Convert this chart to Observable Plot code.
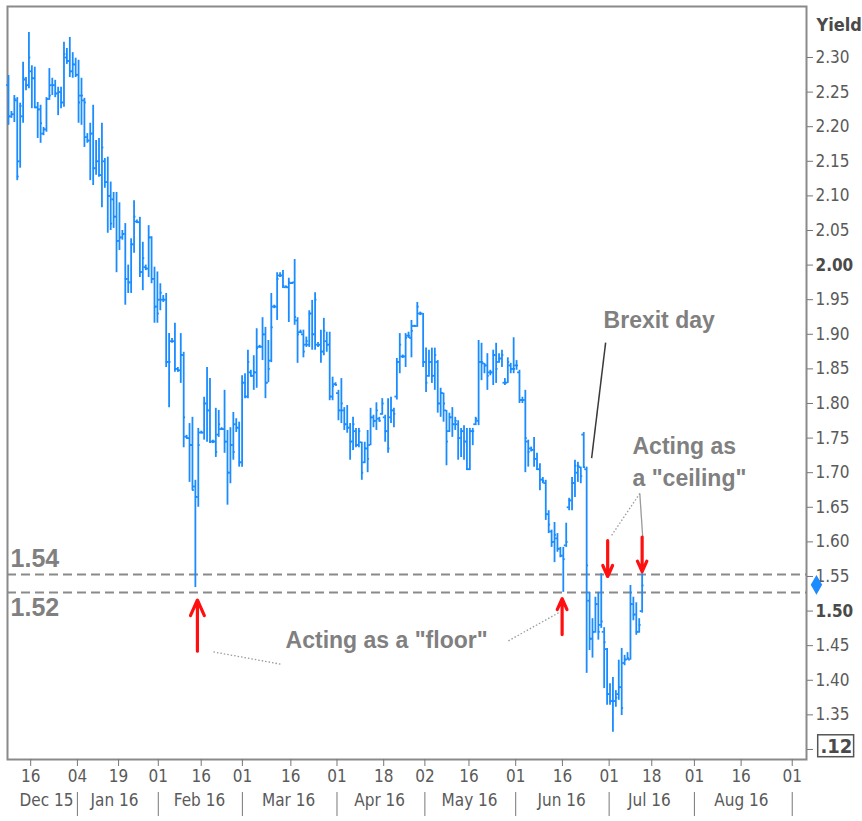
<!DOCTYPE html>
<html>
<head>
<meta charset="utf-8">
<script src="https://cdn.jsdelivr.net/npm/d3@7"></script>
<script src="https://cdn.jsdelivr.net/npm/@observablehq/plot@0.6"></script>
<style>
  body { margin: 0; background: #fff; }
  #chart svg { display: block; }
</style>
</head>
<body>
<div id="chart"></div>
<script>
// ---- OHLC bars (yield), one per bar index ----
const high = [
  2.274,2.222,2.245,2.242,2.234,2.293,2.271,2.336,2.288,2.286,2.235,2.231,2.199,2.242,2.284,2.270,2.267,2.257,2.257,2.322,2.313,2.329,2.307,2.299,2.296,2.270,2.241,2.190,2.205,2.231,2.180,2.183,2.205,2.154,2.156,2.120,2.105,
  2.105,2.090,2.050,2.060,2.000,2.038,2.093,2.065,2.069,2.033,2.000,2.057,2.041,1.997,1.990,1.973,1.956,1.959,1.901,1.894,1.916,1.852,1.901,1.874,1.754,1.771,1.780,1.689,1.764,1.760,1.809,1.852,1.836,1.747,1.793,1.790,1.765,1.819,1.761,1.765,
  1.787,1.778,1.773,1.840,1.843,1.877,1.848,1.869,1.908,1.884,1.924,1.910,1.891,1.959,1.942,1.989,1.989,1.992,1.970,1.981,1.975,2.008,1.924,1.906,1.906,1.896,1.934,1.949,1.960,1.888,1.906,1.923,1.903,1.903,1.838,1.830,1.819,1.836,1.794,1.797,1.771,
  1.780,1.764,1.764,1.744,1.744,1.761,1.793,1.783,1.801,1.780,1.807,1.783,1.807,1.809,1.793,1.865,1.901,1.870,1.901,1.903,1.920,1.913,1.946,1.932,1.930,1.880,1.877,1.880,1.880,1.862,1.822,1.815,1.790,1.786,1.794,1.780,1.775,1.764,
  1.768,1.764,1.764,1.764,1.780,1.891,1.887,1.858,1.872,1.848,1.877,1.887,1.872,1.877,1.836,1.866,1.858,1.895,1.862,1.848,1.809,1.819,1.747,1.737,1.751,1.728,1.713,1.693,1.689,1.645,1.617,1.628,1.612,1.592,1.592,1.627,1.663,1.693,1.718,
  1.715,1.708,1.758,1.708,1.527,1.489,1.520,1.527,1.554,1.476,1.446,1.395,1.404,1.385,1.429,1.446,1.436,1.440,1.537,1.520,1.512,1.489,1.554
];
const low = [
  2.202,2.212,2.206,2.122,2.140,2.205,2.252,2.255,2.226,2.226,2.183,2.176,2.187,2.192,2.238,2.245,2.242,2.216,2.226,2.228,2.290,2.271,2.270,2.271,2.205,2.202,2.170,2.176,2.122,2.115,2.130,2.127,2.083,2.111,2.046,2.050,2.053,
  1.989,2.021,2.036,1.942,1.959,1.959,2.017,2.060,1.982,1.963,1.992,1.982,1.973,1.916,1.916,1.934,1.946,1.852,1.794,1.887,1.845,1.845,1.829,1.736,1.749,1.686,1.674,1.534,1.650,1.756,1.747,1.744,1.742,1.742,1.722,1.751,1.761,1.728,1.653,1.684,
  1.718,1.758,1.708,1.708,1.807,1.807,1.838,1.819,1.822,1.880,1.862,1.807,1.830,1.859,1.937,1.920,1.982,1.966,1.967,1.917,1.972,1.913,1.858,1.901,1.866,1.881,1.881,1.877,1.877,1.881,1.858,1.869,1.874,1.804,1.804,1.825,1.775,1.771,1.761,1.757,1.718,
  1.732,1.736,1.736,1.689,1.713,1.700,1.739,1.765,1.761,1.773,1.783,1.744,1.728,1.771,1.765,1.805,1.843,1.865,1.852,1.894,1.866,1.910,1.910,1.927,1.852,1.816,1.838,1.829,1.819,1.786,1.780,1.773,1.710,1.758,1.751,1.761,1.718,1.722,
  1.718,1.703,1.703,1.739,1.768,1.768,1.833,1.843,1.819,1.840,1.826,1.829,1.858,1.852,1.826,1.829,1.843,1.843,1.848,1.800,1.800,1.700,1.708,1.730,1.708,1.703,1.674,1.684,1.631,1.612,1.592,1.570,1.585,1.577,1.527,1.592,1.645,1.645,1.664,
  1.686,1.684,1.706,1.410,1.443,1.432,1.468,1.458,1.475,1.388,1.364,1.364,1.325,1.361,1.371,1.349,1.421,1.429,1.429,1.486,1.465,1.468,1.497
];
const open = [
  2.260,2.215,2.218,2.238,2.150,2.215,2.268,2.260,2.280,2.270,2.228,2.225,2.190,2.196,2.240,2.260,2.260,2.248,2.250,2.235,2.300,2.295,2.280,2.290,2.275,2.245,2.238,2.185,2.180,2.190,2.140,2.150,2.130,2.150,2.120,2.100,2.095,
  2.070,2.035,2.040,2.045,1.980,1.975,2.030,2.063,2.062,1.990,1.997,1.995,2.040,1.980,1.940,1.950,1.950,1.950,1.860,1.890,1.890,1.850,1.848,1.870,1.752,1.750,1.740,1.680,1.665,1.758,1.758,1.800,1.790,1.745,1.745,1.755,1.763,1.763,1.745,1.700,
  1.740,1.770,1.765,1.715,1.830,1.810,1.845,1.840,1.845,1.882,1.882,1.900,1.830,1.862,1.940,1.940,1.985,1.985,1.968,1.968,1.974,1.975,1.920,1.903,1.900,1.885,1.885,1.930,1.900,1.885,1.885,1.875,1.890,1.885,1.810,1.828,1.815,1.790,1.790,1.770,1.765,
  1.745,1.760,1.740,1.744,1.715,1.735,1.740,1.780,1.775,1.778,1.785,1.780,1.760,1.780,1.790,1.810,1.860,1.868,1.868,1.898,1.895,1.912,1.912,1.930,1.930,1.860,1.840,1.860,1.840,1.860,1.800,1.815,1.790,1.760,1.780,1.770,1.770,1.750,
  1.760,1.745,1.705,1.760,1.770,1.775,1.860,1.858,1.855,1.845,1.845,1.870,1.860,1.865,1.830,1.830,1.855,1.850,1.855,1.845,1.805,1.805,1.745,1.735,1.733,1.720,1.705,1.690,1.685,1.640,1.615,1.600,1.605,1.590,1.580,1.595,1.650,1.660,1.685,
  1.700,1.708,1.755,1.705,1.515,1.460,1.470,1.510,1.480,1.470,1.445,1.380,1.370,1.370,1.380,1.390,1.425,1.430,1.430,1.510,1.495,1.470,1.500
];
const close = [
  2.215,2.218,2.240,2.128,2.230,2.270,2.260,2.300,2.270,2.228,2.225,2.205,2.196,2.240,2.245,2.260,2.248,2.250,2.235,2.305,2.295,2.280,2.290,2.275,2.235,2.245,2.235,2.180,2.190,2.140,2.150,2.130,2.170,2.120,2.100,2.060,2.070,
  2.035,2.040,2.045,1.980,1.975,2.030,2.070,2.062,1.990,2.010,1.995,2.040,1.980,1.940,1.930,1.960,1.950,1.860,1.860,1.890,1.850,1.848,1.870,1.780,1.750,1.740,1.675,1.665,1.740,1.758,1.800,1.790,1.745,1.745,1.730,1.770,1.763,1.745,1.700,1.740,
  1.730,1.765,1.715,1.830,1.810,1.860,1.840,1.845,1.880,1.882,1.900,1.830,1.850,1.910,1.940,1.980,1.985,1.970,1.968,1.975,1.974,1.925,1.900,1.903,1.875,1.890,1.930,1.900,1.950,1.884,1.875,1.905,1.885,1.810,1.825,1.827,1.790,1.800,1.770,1.765,1.745,
  1.770,1.740,1.760,1.700,1.735,1.720,1.780,1.775,1.790,1.775,1.800,1.760,1.735,1.790,1.785,1.860,1.885,1.868,1.895,1.898,1.905,1.912,1.940,1.930,1.860,1.830,1.860,1.840,1.870,1.800,1.815,1.800,1.745,1.780,1.770,1.775,1.750,1.760,
  1.745,1.705,1.760,1.760,1.778,1.860,1.860,1.855,1.840,1.845,1.870,1.850,1.865,1.870,1.830,1.860,1.850,1.850,1.855,1.805,1.805,1.750,1.730,1.733,1.720,1.705,1.690,1.688,1.640,1.625,1.600,1.610,1.590,1.580,1.575,1.600,1.660,1.685,1.710,
  1.710,1.695,1.708,1.566,1.460,1.470,1.510,1.470,1.485,1.455,1.380,1.370,1.370,1.375,1.390,1.360,1.430,1.432,1.510,1.495,1.470,1.480,1.537
];

// ---- axis ticks / labels (positions in bar-index units) ----
const dayTickPos    = [7.6, 23.6, 37.7, 51.3, 66.0, 80.1, 96.7, 112.5, 128.5, 142.6, 157.7, 173.7, 189.7, 205.7, 220.3, 234.9, 250.9, 268.4];
const dayTickLabels = ["16","04","19","01","16","01","16","01","18","02","16","01","16","01","18","01","16","01"];
const monthPos      = [13.0, 36.3, 65.4, 95.9, 127.1, 157.9, 189.4, 219.5, 251.0];
const monthLabels   = ["Dec 15","Jan 16","Feb 16","Mar 16","Apr 16","May 16","Jun 16","Jul 16","Aug 16"];
const monthSepPos   = [23.6, 51.3, 80.1, 112.5, 142.6, 173.7, 205.7, 234.9, 268.4];
const yTicks        = [1.30,1.35,1.40,1.45,1.50,1.55,1.60,1.65,1.70,1.75,1.80,1.85,1.90,1.95,2.00,2.05,2.10,2.15,2.20,2.25,2.30];
const yBoldTicks    = [1.50, 2.00];

// ---- levels & annotations ----
const levels        = [1.553, 1.527];
const levelLabels   = [{x: 0.7, y: 1.575, t: "1.54"}, {x: 0.7, y: 1.505, t: "1.52"}];
const lastPrice     = 1.538;
const boxedValue    = {x: 283.5, y: 1.3043, x1: 277.3, x2: 289.6, y1: 1.2888, y2: 1.3205, t: ".12"};
const upArrows      = [{x: 64.7, y1: 1.442, y2: 1.516}, {x: 189.6, y1: 1.466, y2: 1.518}];
const downArrows    = [{x: 205.2, y1: 1.602, y2: 1.550}, {x: 217.0, y1: 1.607, y2: 1.557}];
const notes = [
  {x: 203.8, y: 1.920, t: "Brexit day"},
  {x: 213.7, y: 1.738, t: "Acting as"},
  {x: 213.7, y: 1.691, t: "a \"ceiling\""},
  {x: 94.9,  y: 1.458, t: "Acting as a \"floor\""}
];
const dottedLeaders = [
  {x1: 70.2, y1: 1.441, x2: 93.5, y2: 1.423},
  {x1: 171.2, y1: 1.457, x2: 189.0, y2: 1.499},
  {x1: 216.2, y1: 1.670, x2: 206.5, y2: 1.609}
];
const solidLeaders = [{x1: 216.2, y1: 1.670, x2: 217.2, y2: 1.607}];
const brexitLeader = [{x1: 204.5, y1: 1.888, x2: 199.7, y2: 1.721}];

const bars = high.map((h, i) => ({i, h, l: low[i], o: open[i], c: close[i]}));
const dayLabel = new Map(dayTickPos.map((p, k) => [p, dayTickLabels[k]]));

const BLUE = "#1a8cff";
const GREY = "#808080";
const AXISFONT = "'DejaVu Sans Condensed', 'DejaVu Sans', sans-serif";
const NOTEFONT = "'Liberation Sans', Arial, sans-serif";

const chart = Plot.plot({
  width: 862,
  height: 821,
  marginLeft: 7,
  marginRight: 56,
  marginTop: 6,
  marginBottom: 62,
  style: {fontFamily: AXISFONT, fontSize: "17px", color: "#5a5a5a", background: "#fff"},
  x: {type: "linear", domain: [-0.34, 273.29]},
  y: {type: "linear", domain: [1.2855, 2.3737]},
  marks: [
    Plot.frame({stroke: "#8a8a8a", strokeWidth: 2}),
    // support / resistance levels
    Plot.ruleY(levels, {stroke: "#8a8a8a", strokeWidth: 2, strokeDasharray: "9,5"}),
    Plot.text(levelLabels, {x: "x", y: "y", text: "t", textAnchor: "start", fill: GREY, fontWeight: "bold", fontSize: 25, fontFamily: NOTEFONT}),
    // OHLC bars
    Plot.ruleX(bars, {x: "i", y1: "l", y2: "h", stroke: BLUE, strokeWidth: 1.8}),
    Plot.ruleY(bars, {y: "o", x1: d => d.i - 0.65, x2: "i", stroke: BLUE, strokeWidth: 1.8}),
    Plot.ruleY(bars, {y: "c", x1: "i", x2: d => d.i + 0.65, stroke: BLUE, strokeWidth: 1.8}),
    // leaders
    Plot.link(dottedLeaders, {x1: "x1", y1: "y1", x2: "x2", y2: "y2", stroke: "#9a9a9a", strokeWidth: 1.3, strokeDasharray: "1.5,2"}),
    Plot.link(solidLeaders, {x1: "x1", y1: "y1", x2: "x2", y2: "y2", stroke: "#9a9a9a", strokeWidth: 1.3}),
    Plot.link(brexitLeader, {x1: "x1", y1: "y1", x2: "x2", y2: "y2", stroke: "#3a3a3a", strokeWidth: 1.5}),
    // arrows
    Plot.arrow(upArrows, {x: "x", y1: "y1", y2: "y2", stroke: "#ff1010", strokeWidth: 3.2, headLength: 21, headAngle: 48}),
    Plot.arrow(downArrows, {x: "x", y1: "y1", y2: "y2", stroke: "#ff1010", strokeWidth: 3.2, headLength: 21, headAngle: 48}),
    // annotation texts
    Plot.text(notes, {x: "x", y: "y", text: "t", textAnchor: "start", fill: GREY, fontWeight: "bold", fontSize: 23, fontFamily: NOTEFONT}),
    // right axis
    Plot.axisY({anchor: "right", ticks: yTicks, tickSize: 6, tickPadding: 3, stroke: "#777",
      tickFormat: d => (yBoldTicks.includes(d) || d === 1.30) ? "" : d.toFixed(2), fontSize: 17}),
    Plot.axisY({anchor: "right", ticks: yBoldTicks, tickSize: 0, tickPadding: 9, fontWeight: "bold",
      tickFormat: d => d.toFixed(2), fontSize: 17, fill: "#4a4a4a"}),
    Plot.text(["Yield"], {frameAnchor: "top-right", dx: 10, dy: 12, textAnchor: "start", fontWeight: "bold", fontSize: 18, fill: "#4a4a4a"}),
    // last price marker
    Plot.dot([lastPrice], {x: 276.7, y: d => d, symbol: "diamond", r: 6, fill: BLUE, stroke: null}),
    // boxed value at the bottom of the axis
    Plot.rect([boxedValue], {x1: "x1", x2: "x2", y1: "y1", y2: "y2", fill: "none", stroke: "#555", strokeWidth: 1.5}),
    Plot.text([boxedValue], {x: "x", y: "y", text: "t", fontWeight: "bold", fontSize: 20, fill: "#4a4a4a"}),
    // bottom axis
    Plot.axisX({anchor: "bottom", ticks: dayTickPos, tickSize: 7, tickPadding: 3, stroke: "#777",
      tickFormat: d => dayLabel.get(d), fontSize: 17}),
    Plot.text(monthPos, {x: d => d, text: (d, k) => monthLabels[k], frameAnchor: "bottom", dy: 46, fontSize: 17, fill: "#5a5a5a"}),
    Plot.axisX({anchor: "bottom", ticks: monthSepPos, tickSize: 24, tickFormat: () => "", dy: 33, stroke: "#777"})
  ]
});
document.getElementById("chart").append(chart);
</script>
</body>
</html>
